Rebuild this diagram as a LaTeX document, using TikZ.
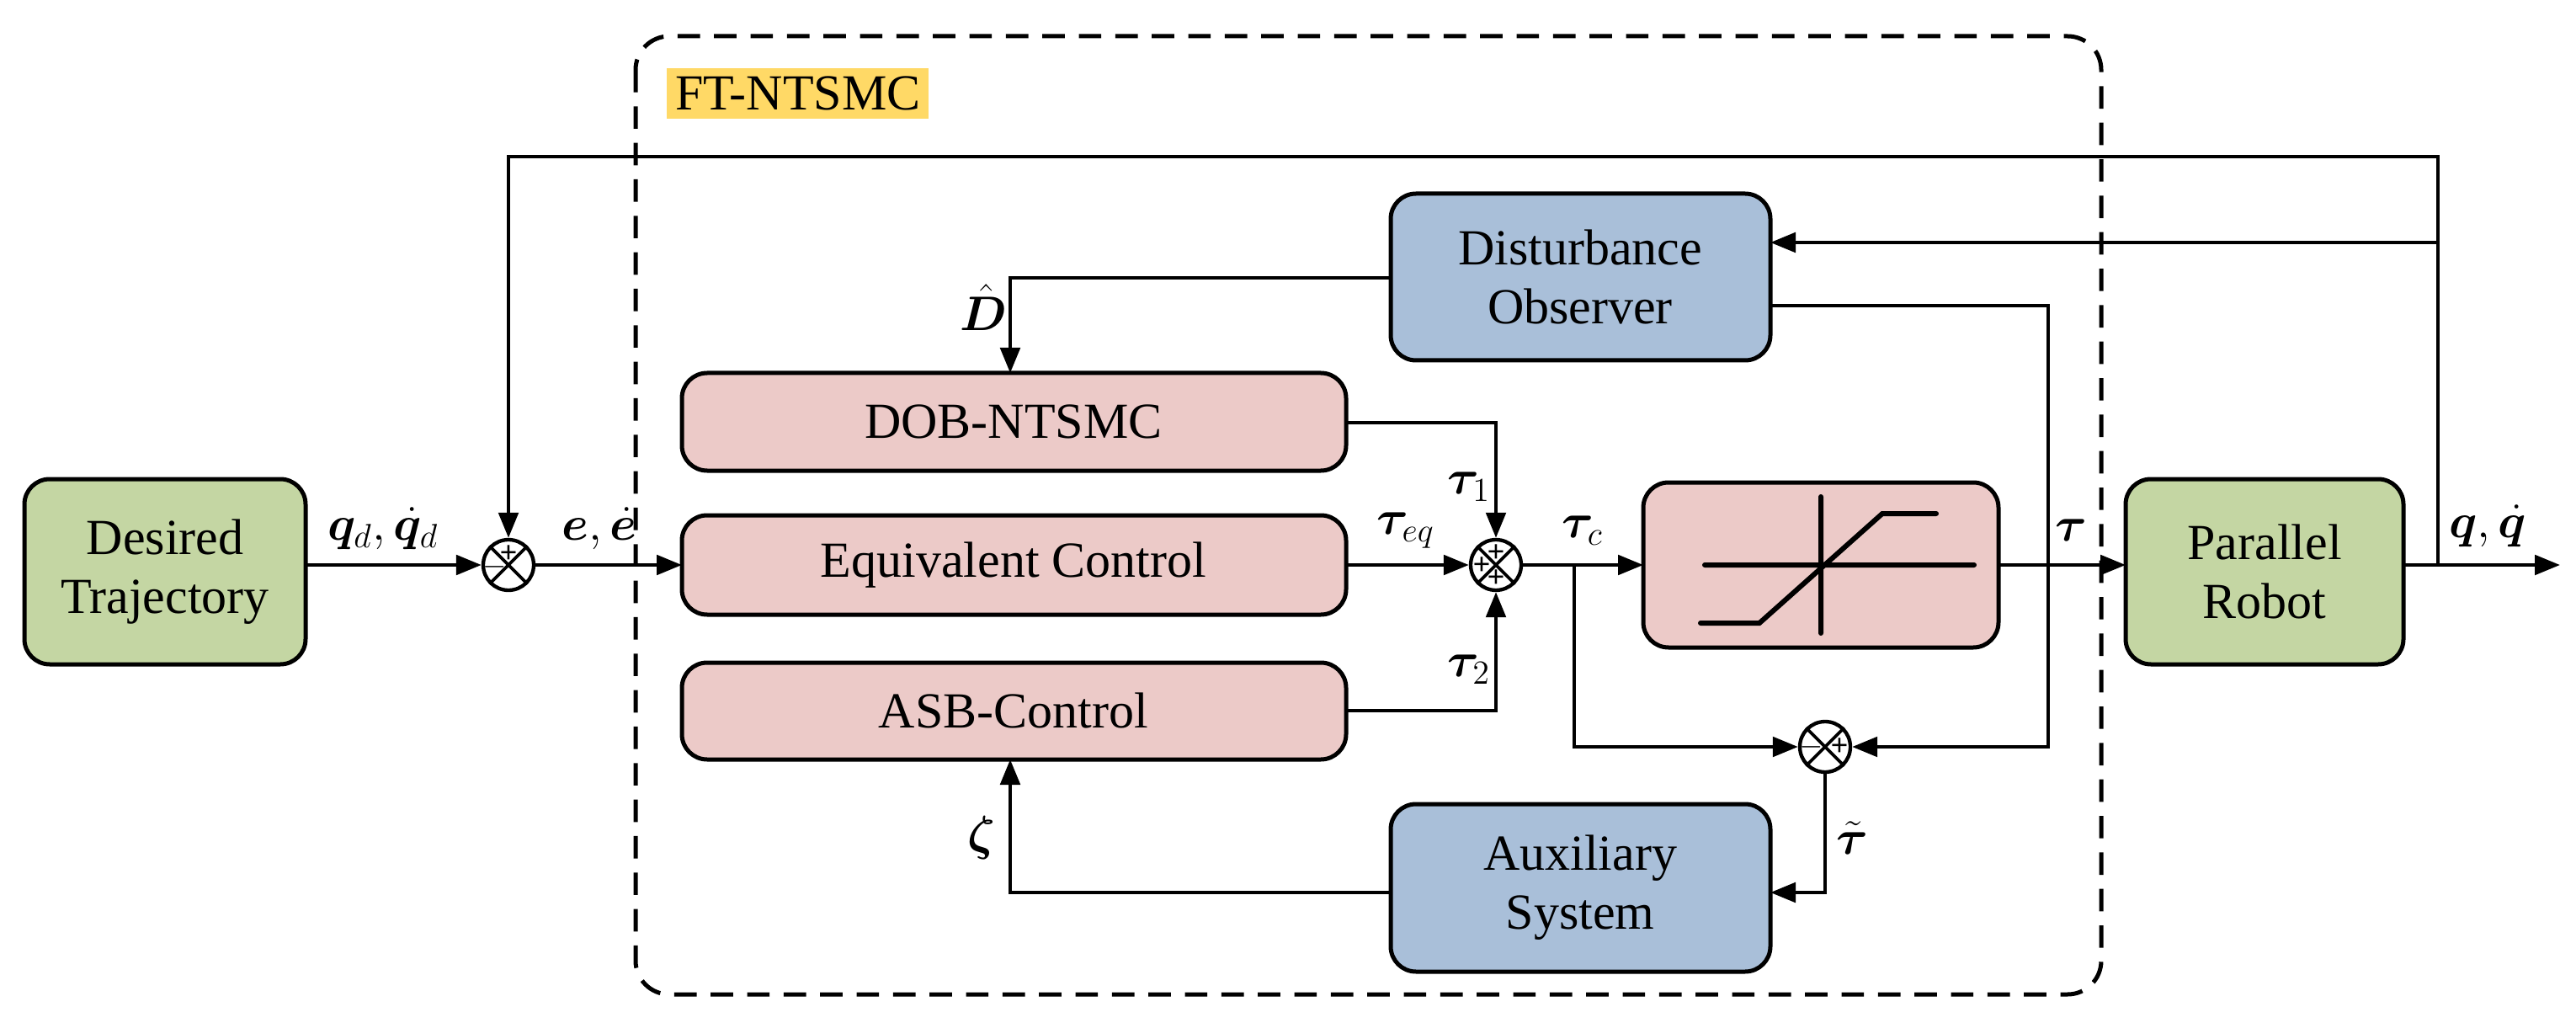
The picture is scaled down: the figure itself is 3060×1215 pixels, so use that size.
\documentclass[tikz,border=0pt]{standalone}
\usepackage{fontspec}
\usepackage{amsmath,bm}
\setmainfont{Liberation Serif}
\usetikzlibrary{arrows.meta}
\definecolor{gr}{HTML}{C4D6A3}
\definecolor{pk}{HTML}{ECCAC8}
\definecolor{bl}{HTML}{A9BFD9}
\definecolor{yl}{HTML}{FFD966}
\begin{document}
\begin{tikzpicture}[x=0.3pt,y=-0.3pt,line width=1.3pt,
 box/.style={draw,rounded corners=9pt,line width=1.5pt},
 arr/.style={-{Triangle[length=9pt,width=7pt]}},
 sj/.style={draw,circle,minimum size=18pt,inner sep=0,line width=1.3pt,fill=white},
 sg/.style={font=\fontsize{11}{11}\selectfont\bfseries,inner sep=0},
 lab/.style={font=\fontsize{18}{21}\selectfont}]
\useasboundingbox (0,0) rectangle (3060,1215);
\draw[dashed,line width=1.5pt,dash pattern=on 8pt off 5pt,rounded corners=12pt] (755,43) rectangle (2496,1181);
\node[fill=yl,inner sep=3pt,lab,anchor=west] (ft) at (790,111) {FT-NTSMC};
\draw[box,fill=gr] (29,569) rectangle (363,789);
\node[lab,align=center] (dtt) at (196,679) {Desired\\Trajectory};
\draw[box,fill=gr] (2525,569) rectangle (2855,789);
\node[lab,align=center] (pr) at (2690,679) {Parallel\\Robot};
\draw[box,fill=bl] (1652,230) rectangle (2103,428);
\node[lab,align=center] (dob) at (1877,329) {Disturbance\\Observer};
\draw[box,fill=bl] (1652,955) rectangle (2103,1154);
\node[lab,align=center] (aux) at (1877,1054) {Auxiliary\\System};
\draw[box,fill=pk] (810,443) rectangle (1599,559);
\node[lab] (dn) at (1204,501) {DOB-NTSMC};
\draw[box,fill=pk] (810,612) rectangle (1599,730);
\node[lab] (eq) at (1204,671) {Equivalent Control};
\draw[box,fill=pk] (810,787) rectangle (1599,902);
\node[lab] (asb) at (1204,844) {ASB-Control};
\draw[box,fill=pk] (1952,573) rectangle (2374,769);
\draw[line cap=round,line width=1.8pt] (2025,671) -- (2345,671) (2163,590) -- (2163,752) (2020,740) -- (2090,740) -- (2236,610) -- (2300,610);
% sum junctions
\newcommand\sj[2]{\node[sj] (#1) at (#2) {};
 \draw[line width=1.1pt] (#1.45) -- (#1.225) (#1.135) -- (#1.315);}
\sj{s1}{604,671}
\sj{s2}{1777,671}
\sj{s3}{2168,887}
\node[sg] (p1a) at ([shift={(0,-13)}]s1) {+}; \node[sg] (p1b) at ([shift={(-16,2)}]s1) {$-$};
\node[sg] (p2a) at ([shift={(0,-14)}]s2) {+}; \node[sg] (p2b) at ([shift={(-17,1)}]s2) {+}; \node[sg] (p2c) at ([shift={(0,16)}]s2) {+};
\node[sg] (p3a) at ([shift={(-16,0)}]s3) {$-$}; \node[sg] (p3b) at ([shift={(17,0)}]s3) {+};
% connectors
\draw[arr] (363,671) -- (s1.west);
\draw[arr] (s1.east) -- (810,671);
\draw[arr] (1599,671) -- (s2.west);
\draw[arr] (s2.east) -- (1952,671);
\draw[arr] (2374,671) -- (2525,671);
\draw[arr] (2855,671) -- (3041,671);
\draw[arr] (2896,671) -- (2896,186) -- (604,186) -- (s1.north);
\draw[arr] (2896,288) -- (2103,288);
\draw[arr] (1652,330) -- (1200,330) -- (1200,443);
\draw[arr] (1599,502) -- (1777,502) -- (s2.north);
\draw[arr] (1599,844) -- (1777,844) -- (s2.south);
\draw[arr] (1870,671) -- (1870,887) -- (s3.west);
\draw[arr] (2103,363) -- (2433,363) -- (2433,887) -- (s3.east);
\draw[arr] (s3.south) -- (2168,1060) -- (2103,1060);
\draw[arr] (1652,1060) -- (1200,1060) -- (1200,902);
% labels
\begin{scope}[lab]
\node (l1) at (455,628) {$\bm{q}_d,\dot{\bm{q}}_d$};
\node (l2) at (712,628) {$\bm{e},\dot{\bm{e}}$};
\node (l3) at (1168,365) {$\hat{\bm{D}}$};
\node (l4) at (1745,578) {$\bm{\tau}_1$};
\node (l5) at (1670,630) {$\bm{\tau}_{eq}$};
\node (l6) at (1745,795) {$\bm{\tau}_2$};
\node (l7) at (1880,630) {$\bm{\tau}_c$};
\node (l8) at (2460,630) {$\bm{\tau}$};
\node (l9) at (2955,625) {$\bm{q},\dot{\bm{q}}$};
\node (l10) at (2200,995) {$\tilde{\bm{\tau}}$};
\node (l11) at (1166,995) {$\bm{\zeta}$};
\end{scope}
\end{tikzpicture}
\end{document}
